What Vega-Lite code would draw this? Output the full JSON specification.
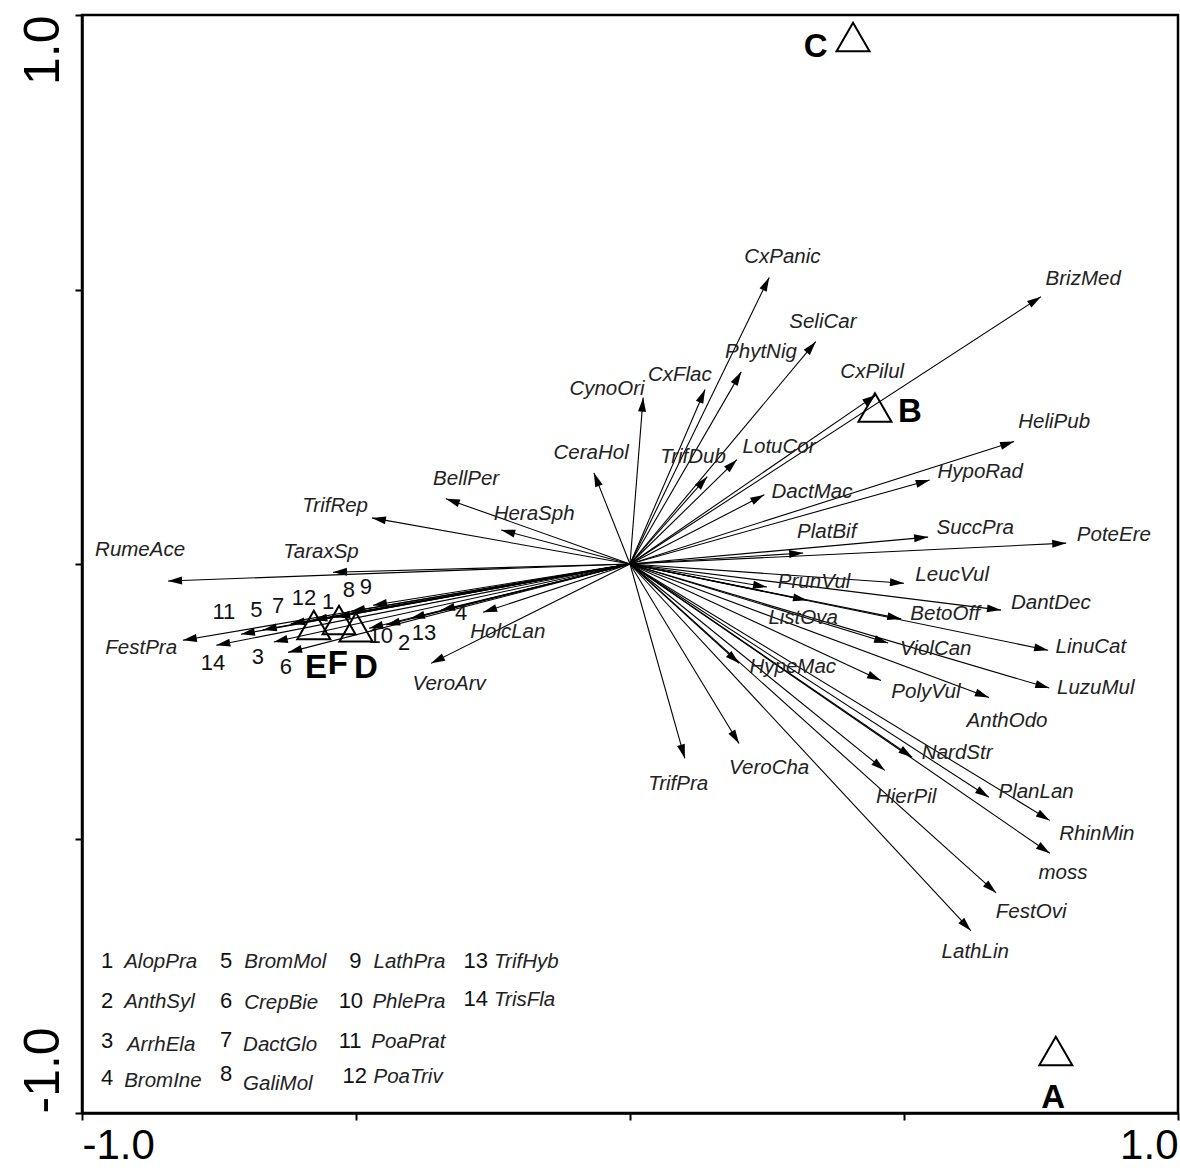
{
  "$schema": "https://vega.github.io/schema/vega-lite/v6.json",
  "width": 1096,
  "height": 1098,
  "autosize": "none",
  "padding": {"left": 82, "top": 15, "right": 2, "bottom": 57},
  "background": "white",
  "config": {"view": {"stroke": "black", "strokeWidth": 2.5}, "font": "Liberation Sans", "axis": {"grid": false}},
  "datasets": {
    "arrows": [
      {"name": "CxPanic", "kind": "sp", "x": 0.254, "y": 0.522, "lx": 0.278, "ly": 0.560},
      {"name": "BrizMed", "kind": "sp", "x": 0.750, "y": 0.487, "lx": 0.827, "ly": 0.520},
      {"name": "SeliCar", "kind": "sp", "x": 0.339, "y": 0.405, "lx": 0.352, "ly": 0.440},
      {"name": "PhytNig", "kind": "sp", "x": 0.203, "y": 0.350, "lx": 0.239, "ly": 0.387},
      {"name": "CxFlac", "kind": "sp", "x": 0.137, "y": 0.318, "lx": 0.091, "ly": 0.345},
      {"name": "CynoOri", "kind": "sp", "x": 0.024, "y": 0.303, "lx": -0.042, "ly": 0.319},
      {"name": "CxPilul", "kind": "sp", "x": 0.449, "y": 0.308, "lx": 0.442, "ly": 0.349},
      {"name": "HeliPub", "kind": "sp", "x": 0.701, "y": 0.223, "lx": 0.774, "ly": 0.259},
      {"name": "HypoRad", "kind": "sp", "x": 0.547, "y": 0.153, "lx": 0.639, "ly": 0.168},
      {"name": "LotuCor", "kind": "sp", "x": 0.195, "y": 0.190, "lx": 0.272, "ly": 0.214},
      {"name": "TrifDub", "kind": "sp", "x": 0.141, "y": 0.159, "lx": 0.115, "ly": 0.195},
      {"name": "DactMac", "kind": "sp", "x": 0.245, "y": 0.126, "lx": 0.332, "ly": 0.131},
      {"name": "CeraHol", "kind": "sp", "x": -0.066, "y": 0.166, "lx": -0.071, "ly": 0.203},
      {"name": "PlatBif", "kind": "sp", "x": 0.316, "y": 0.020, "lx": 0.359, "ly": 0.058},
      {"name": "SuccPra", "kind": "sp", "x": 0.544, "y": 0.049, "lx": 0.630, "ly": 0.066},
      {"name": "PoteEre", "kind": "sp", "x": 0.796, "y": 0.038, "lx": 0.883, "ly": 0.053},
      {"name": "LeucVul", "kind": "sp", "x": 0.500, "y": -0.035, "lx": 0.588, "ly": -0.020},
      {"name": "PrunVul", "kind": "sp", "x": 0.250, "y": -0.042, "lx": 0.336, "ly": -0.033},
      {"name": "DantDec", "kind": "sp", "x": 0.677, "y": -0.084, "lx": 0.768, "ly": -0.071},
      {"name": "BetoOff", "kind": "sp", "x": 0.495, "y": -0.100, "lx": 0.575, "ly": -0.091},
      {"name": "ListOva", "kind": "sp", "x": 0.323, "y": -0.066, "lx": 0.316, "ly": -0.099},
      {"name": "LinuCat", "kind": "sp", "x": 0.763, "y": -0.157, "lx": 0.841, "ly": -0.151},
      {"name": "ViolCan", "kind": "sp", "x": 0.471, "y": -0.144, "lx": 0.558, "ly": -0.155},
      {"name": "LuzuMul", "kind": "sp", "x": 0.765, "y": -0.226, "lx": 0.850, "ly": -0.226},
      {"name": "HypeMac", "kind": "sp", "x": 0.199, "y": -0.181, "lx": 0.297, "ly": -0.188},
      {"name": "PolyVul", "kind": "sp", "x": 0.458, "y": -0.212, "lx": 0.540, "ly": -0.234},
      {"name": "AnthOdo", "kind": "sp", "x": 0.655, "y": -0.243, "lx": 0.688, "ly": -0.286},
      {"name": "NardStr", "kind": "sp", "x": 0.515, "y": -0.352, "lx": 0.597, "ly": -0.345},
      {"name": "PlanLan", "kind": "sp", "x": 0.655, "y": -0.425, "lx": 0.741, "ly": -0.416},
      {"name": "HierPil", "kind": "sp", "x": 0.465, "y": -0.376, "lx": 0.504, "ly": -0.425},
      {"name": "RhinMin", "kind": "sp", "x": 0.766, "y": -0.467, "lx": 0.852, "ly": -0.491},
      {"name": "moss", "kind": "sp", "x": 0.766, "y": -0.527, "lx": 0.790, "ly": -0.562},
      {"name": "FestOvi", "kind": "sp", "x": 0.668, "y": -0.599, "lx": 0.732, "ly": -0.633},
      {"name": "LathLin", "kind": "sp", "x": 0.622, "y": -0.668, "lx": 0.630, "ly": -0.706},
      {"name": "TrifPra", "kind": "sp", "x": 0.100, "y": -0.354, "lx": 0.088, "ly": -0.400},
      {"name": "VeroCha", "kind": "sp", "x": 0.199, "y": -0.327, "lx": 0.254, "ly": -0.372},
      {"name": "RumeAce", "kind": "sp", "x": -0.843, "y": -0.031, "lx": -0.894, "ly": 0.026},
      {"name": "TaraxSp", "kind": "sp", "x": -0.542, "y": -0.015, "lx": -0.564, "ly": 0.022},
      {"name": "TrifRep", "kind": "sp", "x": -0.471, "y": 0.084, "lx": -0.538, "ly": 0.106},
      {"name": "BellPer", "kind": "sp", "x": -0.336, "y": 0.119, "lx": -0.299, "ly": 0.155},
      {"name": "HeraSph", "kind": "sp", "x": -0.235, "y": 0.062, "lx": -0.175, "ly": 0.091},
      {"name": "HolcLan", "kind": "sp", "x": -0.268, "y": -0.088, "lx": -0.223, "ly": -0.124},
      {"name": "VeroArv", "kind": "sp", "x": -0.363, "y": -0.181, "lx": -0.330, "ly": -0.219},
      {"name": "FestPra", "kind": "sp", "x": -0.816, "y": -0.139, "lx": -0.892, "ly": -0.153},
      {"name": "1", "kind": "num", "x": -0.536, "y": -0.097, "lx": -0.551, "ly": -0.069},
      {"name": "2", "kind": "num", "x": -0.445, "y": -0.111, "lx": -0.412, "ly": -0.144},
      {"name": "3", "kind": "num", "x": -0.650, "y": -0.142, "lx": -0.679, "ly": -0.170},
      {"name": "4", "kind": "num", "x": -0.345, "y": -0.084, "lx": -0.308, "ly": -0.089},
      {"name": "5", "kind": "num", "x": -0.670, "y": -0.120, "lx": -0.682, "ly": -0.084},
      {"name": "6", "kind": "num", "x": -0.624, "y": -0.161, "lx": -0.628, "ly": -0.188},
      {"name": "7", "kind": "num", "x": -0.619, "y": -0.109, "lx": -0.642, "ly": -0.077},
      {"name": "8", "kind": "num", "x": -0.509, "y": -0.086, "lx": -0.513, "ly": -0.047},
      {"name": "9", "kind": "num", "x": -0.469, "y": -0.075, "lx": -0.482, "ly": -0.042},
      {"name": "10", "kind": "num", "x": -0.476, "y": -0.117, "lx": -0.455, "ly": -0.132},
      {"name": "11", "kind": "num", "x": -0.710, "y": -0.128, "lx": -0.741, "ly": -0.088},
      {"name": "12", "kind": "num", "x": -0.578, "y": -0.102, "lx": -0.595, "ly": -0.062},
      {"name": "13", "kind": "num", "x": -0.400, "y": -0.099, "lx": -0.376, "ly": -0.126},
      {"name": "14", "kind": "num", "x": -0.755, "y": -0.148, "lx": -0.761, "ly": -0.181}
    ],
    "samples": [
      {"name": "A", "x": 0.777, "y": -0.887, "lx": 0.772, "ly": -0.973},
      {"name": "B", "x": 0.447, "y": 0.285, "lx": 0.511, "ly": 0.277},
      {"name": "C", "x": 0.407, "y": 0.960, "lx": 0.339, "ly": 0.942},
      {"name": "D", "x": -0.500, "y": -0.115, "lx": -0.482, "ly": -0.190},
      {"name": "E", "x": -0.577, "y": -0.111, "lx": -0.573, "ly": -0.190},
      {"name": "F", "x": -0.531, "y": -0.102, "lx": -0.533, "ly": -0.183}
    ],
    "legend": [
      {"num": "1", "name": "AlopPra", "nx": -0.943, "ny": -0.723, "tx": -0.923, "ty": -0.725},
      {"num": "2", "name": "AnthSyl", "nx": -0.943, "ny": -0.796, "tx": -0.923, "ty": -0.798},
      {"num": "3", "name": "ArrhEla", "nx": -0.943, "ny": -0.869, "tx": -0.918, "ty": -0.876},
      {"num": "4", "name": "BromIne", "nx": -0.943, "ny": -0.936, "tx": -0.923, "ty": -0.941},
      {"num": "5", "name": "BromMol", "nx": -0.726, "ny": -0.723, "tx": -0.704, "ty": -0.725},
      {"num": "6", "name": "CrepBie", "nx": -0.726, "ny": -0.796, "tx": -0.704, "ty": -0.800},
      {"num": "7", "name": "DactGlo", "nx": -0.726, "ny": -0.867, "tx": -0.706, "ty": -0.877},
      {"num": "8", "name": "GaliMol", "nx": -0.726, "ny": -0.929, "tx": -0.706, "ty": -0.947},
      {"num": "9", "name": "LathPra", "nx": -0.490, "ny": -0.723, "tx": -0.468, "ty": -0.725},
      {"num": "10", "name": "PhlePra", "nx": -0.487, "ny": -0.796, "tx": -0.470, "ty": -0.798},
      {"num": "11", "name": "PoaPrat", "nx": -0.490, "ny": -0.869, "tx": -0.472, "ty": -0.871},
      {"num": "12", "name": "PoaTriv", "nx": -0.480, "ny": -0.933, "tx": -0.468, "ty": -0.935},
      {"num": "13", "name": "TrifHyb", "nx": -0.259, "ny": -0.723, "tx": -0.248, "ty": -0.725},
      {"num": "14", "name": "TrisFla", "nx": -0.259, "ny": -0.792, "tx": -0.248, "ty": -0.794}
    ]
  },
  "layer": [
    {
      "data": {"name": "arrows"},
      "mark": {"type": "rule", "color": "black", "strokeWidth": 1.1},
      "encoding": {
        "x": {"field": "x", "type": "quantitative", "title": null,
          "scale": {"domain": [-1, 1], "nice": false, "zero": false},
          "axis": {"values": [-1, -0.5, 0, 0.5, 1],
            "labelExpr": "datum.value == 1 ? '1.0' : (datum.value == -1 ? '-1.0' : '')",
            "labelAlign": {"condition": {"test": "datum.value < 0", "value": "left"}, "value": "right"},
            "labelFontSize": 42, "labelFont": "Liberation Sans", "labelColor": "black",
            "labelBaseline": "top", "labelPadding": 5,
            "tickSize": 7, "tickColor": "black", "tickWidth": 2,
            "domainColor": "black", "domainWidth": 2.5, "grid": false,
            "labelOverlap": false, "labelBound": false, "labelFlush": false}},
        "y": {"field": "y", "type": "quantitative", "title": null,
          "scale": {"domain": [-1, 1], "nice": false, "zero": false},
          "axis": {"values": [-1, -0.5, 0, 0.5, 1],
            "labelExpr": "datum.value == 1 ? '1.0' : (datum.value == -1 ? '-1.0' : '')",
            "labelAngle": -90,
            "labelAlign": {"condition": {"test": "datum.value < 0", "value": "left"}, "value": "right"},
            "labelBaseline": "alphabetic",
            "labelFontSize": 50, "labelFont": "Liberation Sans", "labelColor": "black",
            "labelPadding": 17,
            "tickSize": 7, "tickColor": "black", "tickWidth": 2,
            "domainColor": "black", "domainWidth": 2.5, "grid": false,
            "labelOverlap": false, "labelBound": false, "labelFlush": false}},
        "x2": {"datum": 0},
        "y2": {"datum": 0}
      }
    },
    {
      "mark": {"type": "rule", "color": "black", "strokeWidth": 1, "strokeDash": [4, 3]},
      "encoding": {"y": {"datum": 0, "type": "quantitative", "title": null}}
    },
    {
      "mark": {"type": "rule", "color": "black", "strokeWidth": 1, "strokeDash": [4, 3]},
      "encoding": {"x": {"datum": 0, "type": "quantitative", "title": null}}
    },
    {
      "data": {"name": "arrows"},
      "transform": [{"calculate": "atan2(datum.x, datum.y) * 180 / PI", "as": "ang"}],
      "mark": {"type": "point", "shape": "M0,0 L-0.4,1.4 L0.4,1.4 Z", "filled": true, "color": "black", "opacity": 1, "size": 400, "strokeWidth": 0},
      "encoding": {
        "x": {"field": "x", "type": "quantitative", "title": null},
        "y": {"field": "y", "type": "quantitative", "title": null},
        "angle": {"field": "ang", "type": "quantitative", "scale": null}
      }
    },
    {
      "data": {"name": "samples"},
      "mark": {"type": "point", "shape": "triangle-up", "filled": false, "color": "black", "opacity": 1, "size": 1089, "strokeWidth": 2},
      "encoding": {
        "x": {"field": "x", "type": "quantitative", "title": null},
        "y": {"field": "y", "type": "quantitative", "title": null}
      }
    },
    {
      "data": {"name": "samples"},
      "mark": {"type": "text", "font": "Liberation Sans", "fontWeight": "bold", "fontSize": 33, "color": "black", "align": "center", "baseline": "middle"},
      "encoding": {
        "x": {"field": "lx", "type": "quantitative", "title": null},
        "y": {"field": "ly", "type": "quantitative", "title": null},
        "text": {"field": "name"}
      }
    },
    {
      "data": {"name": "arrows"},
      "transform": [{"filter": "datum.kind == 'sp'"}],
      "mark": {"type": "text", "font": "Liberation Sans", "fontStyle": "italic", "fontSize": 20.5, "color": "#222222", "align": "center", "baseline": "middle"},
      "encoding": {
        "x": {"field": "lx", "type": "quantitative", "title": null},
        "y": {"field": "ly", "type": "quantitative", "title": null},
        "text": {"field": "name"}
      }
    },
    {
      "data": {"name": "arrows"},
      "transform": [{"filter": "datum.kind == 'num'"}],
      "mark": {"type": "text", "font": "Liberation Sans", "fontSize": 22, "color": "#111111", "align": "center", "baseline": "middle"},
      "encoding": {
        "x": {"field": "lx", "type": "quantitative", "title": null},
        "y": {"field": "ly", "type": "quantitative", "title": null},
        "text": {"field": "name"}
      }
    },
    {
      "data": {"name": "legend"},
      "mark": {"type": "text", "font": "Liberation Sans", "fontSize": 22, "color": "#111111", "align": "right", "baseline": "middle"},
      "encoding": {
        "x": {"field": "nx", "type": "quantitative", "title": null},
        "y": {"field": "ny", "type": "quantitative", "title": null},
        "text": {"field": "num"}
      }
    },
    {
      "data": {"name": "legend"},
      "mark": {"type": "text", "font": "Liberation Sans", "fontStyle": "italic", "fontSize": 20.5, "color": "#222222", "align": "left", "baseline": "middle"},
      "encoding": {
        "x": {"field": "tx", "type": "quantitative", "title": null},
        "y": {"field": "ty", "type": "quantitative", "title": null},
        "text": {"field": "name"}
      }
    }
  ]
}
